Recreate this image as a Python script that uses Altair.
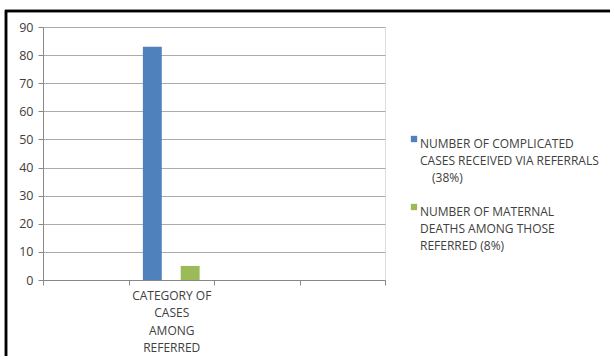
import altair as alt
import pandas as pd

# Category slots on the x axis (only one holds data)
categories = ["slot1", "CATEGORY OF CASES AMONG REFERRED", "slot3", "slot4"]
series = [
    "NUMBER OF COMPLICATED CASES RECEIVED VIA REFERRALS (38%)",
    "NUMBER OF MATERNAL DEATHS AMONG THOSE REFERRED (8%)",
]
values = [83, 5]
colors = ["#4F81BD", "#9BBB59"]

df = pd.DataFrame({
    "category": [categories[1]] * len(series),
    "series": series,
    "value": values,
})

label_expr_x = (
    "datum.value == 'CATEGORY OF CASES AMONG REFERRED' ? "
    "['CATEGORY OF', 'CASES', 'AMONG', 'REFERRED'] : ''"
)
legend_expr = (
    "indexof(datum.value, 'COMPLICATED') >= 0 ? "
    "['NUMBER OF COMPLICATED', 'CASES RECEIVED VIA REFERRALS', '\u200b\u2002\u2002(38%)'] : "
    "['NUMBER OF MATERNAL', 'DEATHS AMONG THOSE', 'REFERRED (8%)']"
)

bars = alt.Chart(df).mark_bar().encode(
    x=alt.X(
        "category:N",
        scale=alt.Scale(domain=categories, paddingInner=0, paddingOuter=0),
        axis=alt.Axis(
            title=None,
            labelAngle=0,
            labelExpr=label_expr_x,
            labelFont="Open Sans",
            labelFontSize=12,
            labelColor="#404040",
            labelLineHeight=17.5,
            labelPadding=5,
            tickBand="extent",
            tickColor="#888888",
            tickSize=5,
            domainColor="#888888",
            grid=False,
            labelLimit=200,
        ),
    ),
    xOffset=alt.XOffset(
        "series:N",
        scale=alt.Scale(domain=series, paddingInner=0.5, paddingOuter=0.38),
    ),
    y=alt.Y(
        "value:Q",
        scale=alt.Scale(domain=[0, 90], nice=False),
        axis=alt.Axis(
            title=None,
            values=list(range(0, 91, 10)),
            labelFont="Open Sans",
            labelFontSize=12.5,
            labelColor="#404040",
            labelPadding=5,
            tickColor="#888888",
            tickSize=5,
            domainColor="#888888",
            gridColor="#ababab",
            gridWidth=1.2,
        ),
    ),
    color=alt.Color(
        "series:N",
        scale=alt.Scale(domain=series, range=colors),
        legend=alt.Legend(
            title=None,
            orient="none",
            legendX=365,
            legendY=106,
            symbolType="square",
            symbolSize=40,
            symbolStrokeWidth=0,
            labelExpr=legend_expr,
            labelFont="Open Sans",
            labelFontSize=12,
            labelColor="#404040",
            labelBaseline="top",
            labelOffset=0,
            labelLimit=240,
            rowPadding=17,
        ),
    ),
)

# Outer frame: left and top edges
frame_left = alt.Chart(df).mark_rule(color="black", strokeWidth=2.5).encode(
    x=alt.value(-37), y=alt.value(-17), y2=alt.value(345),
)
frame_top = alt.Chart(df).mark_rule(color="black", strokeWidth=2.5).encode(
    y=alt.value(-16), x=alt.value(-38), x2=alt.value(575),
)

chart = alt.layer(bars, frame_left, frame_top).properties(
    width=342,
    height=253,
    padding={"left": 43, "top": 27, "right": 225, "bottom": 76},
    autosize=alt.AutoSizeParams(type="none"),
).configure_view(
    stroke=None
).configure(
    background="white",
    style={"guide-label": {"lineHeight": 17}},
)

chart.save("out.html", embed_options={"renderer": "svg", "actions": False})
